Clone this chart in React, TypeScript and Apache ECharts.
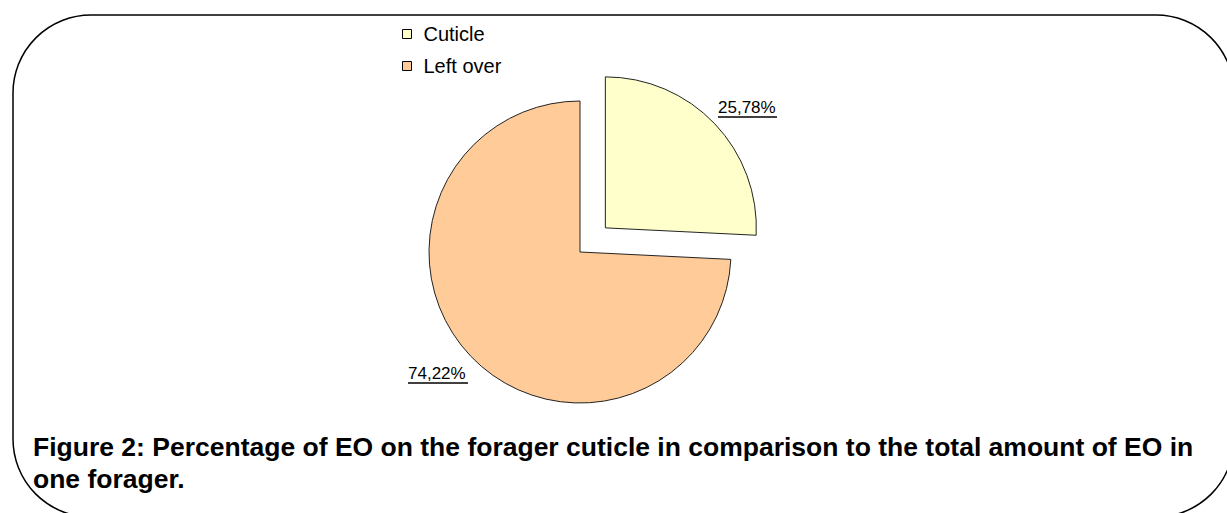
import React, { useEffect, useRef } from "react";
import * as echarts from "echarts";

const categories = ["Cuticle", "Left over"];
const values = [25.78, 74.22];
const colors = ["#FFFFCC", "#FFCC99"];
const titleLines = [
  "Figure 2: Percentage of EO on the forager cuticle in comparison to the total amount of EO in",
  "one forager.",
];

const fmt = (v: number) => v.toFixed(2).replace(".", ",") + "%";

export default function App() {
  const ref = useRef<HTMLDivElement>(null);
  useEffect(() => {
    if (!ref.current) return;
    const chart = echarts.init(ref.current, null, { renderer: "svg" });
    const font = "'Liberation Sans', Arial, sans-serif";
    const labelPos = [
      { x: 718, y: 107, w: 59 },
      { x: 408, y: 373, w: 60 },
    ];
    const labelEls: any[] = [];
    values.forEach((v, i) => {
      const p = labelPos[i];
      labelEls.push({
        type: "text",
        style: {
          text: fmt(v),
          x: p.x,
          y: p.y,
          fill: "#000",
          font: `17px ${font}`,
          textAlign: "left",
          textVerticalAlign: "middle",
        },
      });
      labelEls.push({
        type: "line",
        shape: { x1: p.x, y1: p.y + 10, x2: p.x + p.w, y2: p.y + 10 },
        style: { stroke: "#000", lineWidth: 1.6 },
      });
    });
    chart.setOption({
      animation: false,
      backgroundColor: "#fff",
      title: {
        text: titleLines.join("\n"),
        left: 33,
        top: 431,
        padding: 0,
        textStyle: {
          fontFamily: font,
          fontSize: 26.5,
          fontWeight: "bold",
          color: "#000",
          lineHeight: 32,
        },
      },
      legend: {
        orient: "vertical",
        left: 402,
        top: 24,
        padding: 0,
        itemWidth: 9,
        itemHeight: 9,
        itemGap: 12,
        icon: "rect",
        selectedMode: false,
        data: categories,
        itemStyle: { borderColor: "#000", borderWidth: 1 },
        textStyle: {
          fontFamily: font,
          fontSize: 20,
          color: "#000",
          lineHeight: 20,
          padding: [0, 0, 0, 7],
        },
      },
      graphic: [
        {
          type: "rect",
          shape: { x: 13, y: 15, width: 1221, height: 502, r: 78 },
          style: { fill: "none", stroke: "#000", lineWidth: 1.5 },
          silent: true,
        },
        ...labelEls,
      ],
      series: [
        {
          type: "pie",
          center: [580, 252],
          radius: 151,
          startAngle: 90,
          clockwise: true,
          selectedMode: "single",
          selectedOffset: 35,
          label: { show: false },
          labelLine: { show: false },
          emphasis: { disabled: true },
          itemStyle: { borderColor: "#222", borderWidth: 1 },
          data: categories.map((c, i) => ({
            name: c,
            value: values[i],
            selected: i === 0,
            itemStyle: { color: colors[i] },
          })),
        },
      ],
    });
    return () => chart.dispose();
  }, []);
  return (
    <div
      ref={ref}
      style={{ position: "absolute", left: 0, top: 0, width: 1227, height: 513 }}
    />
  );
}
